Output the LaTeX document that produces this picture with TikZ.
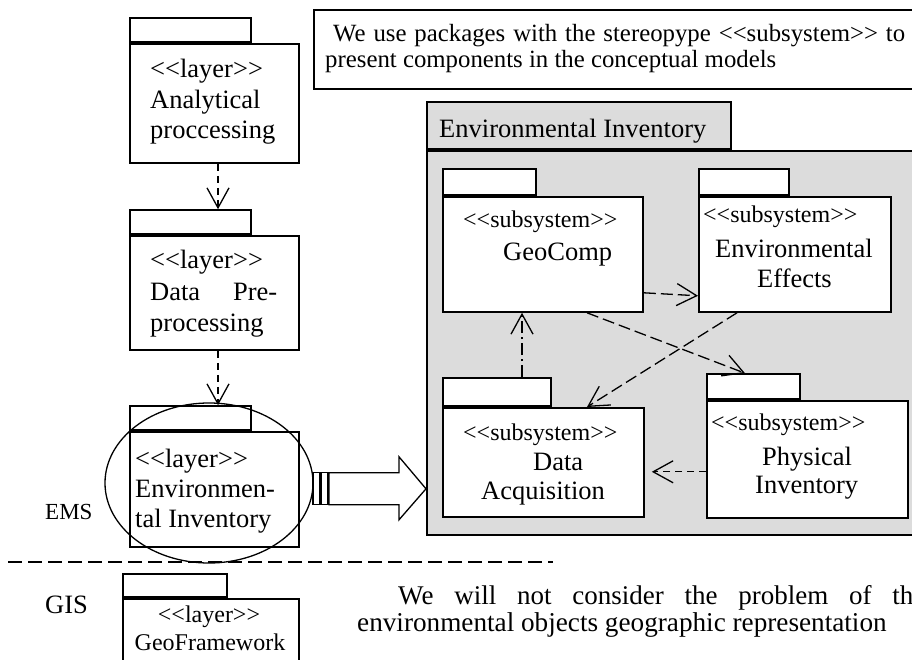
\documentclass[tikz,border=0pt]{standalone}
\usepackage{fontspec}
\setmainfont{Liberation Serif}
\usetikzlibrary{arrows.meta, calc}
\definecolor{pkggray}{RGB}{220,220,220}
\newcommand{\stype}[1]{<{}<#1>{}>}

\begin{document}
\begin{tikzpicture}[x=1pt, y=-1pt,
  pkgbody/.style={draw, line width=1.8pt, fill=white, inner sep=0pt, anchor=north west},
  pkgtab/.style={draw, line width=1.8pt, fill=white, inner sep=0pt, anchor=south west},
  txt/.style={inner sep=0pt, anchor=base west, font=\fontsize{26.5}{30}\selectfont},
  stxt/.style={inner sep=0pt, anchor=base west, font=\fontsize{24}{27}\selectfont},
  ntxt/.style={inner sep=0pt, anchor=base west, font=\fontsize{24.8}{27}\selectfont},
  dep/.style={line width=1.3pt, dash pattern=on 12pt off 5pt, -{Straight Barb[length=20pt, width=22pt]}},
  ldep/.style={dep, dash pattern=on 7pt off 5pt},
  ddep/.style={dep, dash pattern=on 12pt off 4pt on 2pt off 4pt}]
  \useasboundingbox (0,0) rectangle (912,660);

  % note
  \node[draw, line width=1.8pt, inner sep=0pt, minimum width=620pt, minimum height=79pt, anchor=north west] (noteBox) at (313,9) {};
  \node[ntxt] (noteL1) at (333,42) {\makebox[572pt][s]{We use packages with the stereopype \stype{subsystem} to}};
  \node[ntxt] (noteL2) at (325,68) {present components in the conceptual models};

  % container package
  \node[pkgbody, fill=pkggray, minimum width=510pt, minimum height=384pt] (eiBody) at (426,150) {};
  \node[pkgtab, fill=pkggray, minimum width=304pt, minimum height=47pt] (eiTab) at (eiBody.north west) {};
  \node[txt] (eiTitle) at (439,138) {Environmental Inventory};

  % subsystems
  \node[pkgbody, minimum width=200pt, minimum height=115pt] (gcBody) at (442,196) {};
  \node[pkgtab, minimum width=93pt, minimum height=26pt] (gcTab) at (gcBody.north west) {};
  \node[stxt] (gcS) at (463,228) {\stype{subsystem}};
  \node[txt] (gcN) at (503,260) {GeoComp};

  \node[pkgbody, minimum width=192pt, minimum height=115pt] (eeBody) at (698,196) {};
  \node[pkgtab, minimum width=90pt, minimum height=26pt] (eeTab) at (eeBody.north west) {};
  \node[stxt] (eeS) at (703,223) {\stype{subsystem}};
  \node[txt] (eeN1) at (715,258) {Environmental};
  \node[txt] (eeN2) at (757,287) {Effects};

  \node[pkgbody, minimum width=201pt, minimum height=109pt] (daBody) at (442,407) {};
  \node[pkgtab, minimum width=108pt, minimum height=28pt] (daTab) at (daBody.north west) {};
  \node[stxt] (daS) at (463,440) {\stype{subsystem}};
  \node[txt] (daN1) at (533,470) {Data};
  \node[txt] (daN2) at (481,499) {Acquisition};

  \node[pkgbody, minimum width=201pt, minimum height=117pt] (piBody) at (706,400) {};
  \node[pkgtab, minimum width=93pt, minimum height=25pt] (piTab) at (piBody.north west) {};
  \node[stxt] (piS) at (711,430) {\stype{subsystem}};
  \node[txt] (piN1) at (762,465) {Physical};
  \node[txt] (piN2) at (755,493) {Inventory};

  \draw[dep] ([yshift=20pt]gcBody.south east) -- ([yshift=17pt]eeBody.south west);
  \draw[dep] ([xshift=145pt]gcBody.south west) -- ([xshift=39pt]piTab.north west);
  \draw[dep] ([xshift=39pt]eeBody.south west) -- ([xshift=145pt]daBody.north west);
  \draw[ddep] ([xshift=80pt]daTab.north west) -- ([xshift=80pt]gcBody.south west);
  \draw[ldep] ([yshift=47pt]piBody.south west) -- ([xshift=7pt, yshift=46pt]daBody.south east);

  % layers
  \node[pkgbody, minimum width=169pt, minimum height=119pt] (anaBody) at (129,43) {};
  \node[pkgtab, minimum width=121pt, minimum height=24pt] (anaTab) at (anaBody.north west) {};
  \node[txt] (anaS) at (150,78) {\stype{layer}};
  \node[txt] (anaN1) at (150,108.5) {Analytical};
  \node[txt] (anaN2) at (150,139) {proccessing};

  \node[pkgbody, minimum width=169pt, minimum height=114pt] (dpBody) at (129,235) {};
  \node[pkgtab, minimum width=121pt, minimum height=24pt] (dpTab) at (dpBody.north west) {};
  \node[txt] (dpS) at (150,269) {\stype{layer}};
  \node[txt] (dpN1) at (150,300) {\makebox[127pt][s]{Data Pre-}};
  \node[txt] (dpN2) at (150,331) {processing};

  \node[pkgbody, minimum width=169pt, minimum height=115pt] (elBody) at (129,431) {};
  \node[pkgtab, minimum width=121pt, minimum height=24pt] (elTab) at (elBody.north west) {};
  \node[txt] (elS) at (135,467) {\stype{layer}};
  \node[txt] (elN1) at (135,497) {Environmen-};
  \node[txt] (elN2) at (135,527) {tal Inventory};

  \draw[ldep] ([xshift=89pt]anaBody.south west) -- ([xshift=89pt]dpTab.north west);
  \draw[ldep] ([xshift=89pt]dpBody.south west) -- ([xshift=89pt]elTab.north west);

  \draw[line width=1.3pt] (209,483) ellipse [x radius=104, y radius=80];

  % big arrow into the container
  \coordinate (bigTip) at ([yshift=47pt]eiBody.south west);
  \draw[line width=1.3pt, fill=white] (bigTip) -- ++(-27,-32) -- ++(0,16) -- ++(-70,0) -- ++(0,32)
    -- ++(70,0) -- ++(0,15) -- cycle;
  \draw[line width=1.3pt, fill=white] ($(bigTip)+(-113,-16)$) rectangle ++(7,32);
  \draw[line width=1.3pt, fill=white] ($(bigTip)+(-105,-16)$) rectangle ++(7,32);

  % EMS / GIS border
  \draw[line width=1.3pt, dash pattern=on 14pt off 6pt] (8,562) -- (553,562);
  \node[stxt, font=\fontsize{23}{26}\selectfont] (ems) at (45,519) {EMS};
  \node[txt] (gis) at (45,613) {GIS};

  \node[pkgbody, minimum width=176pt, minimum height=80pt] (gfBody) at (122,598) {};
  \node[pkgtab, minimum width=104pt, minimum height=23pt] (gfTab) at (gfBody.north west) {};
  \node[stxt, anchor=base] (gfS) at (209,622) {\stype{layer}};
  \node[stxt, anchor=base] (gfN) at (210,650) {GeoFramework};

  \node[txt, font=\fontsize{27}{30}\selectfont] (gisL1) at (398,604) {\makebox[527pt][s]{We will not consider the problem of the}};
  \node[txt, font=\fontsize{27.2}{30}\selectfont] (gisL2) at (357,631) {environmental objects geographic representation};
\end{tikzpicture}
\end{document}
